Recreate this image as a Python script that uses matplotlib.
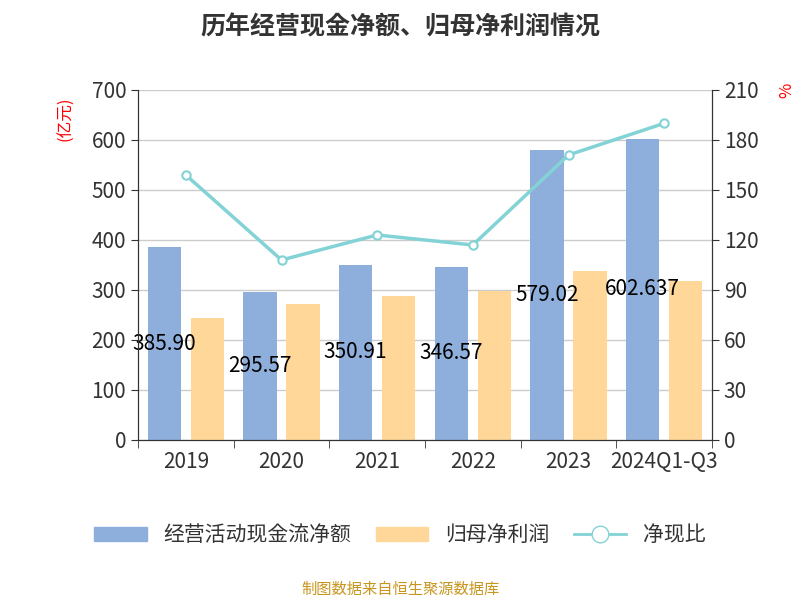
import matplotlib
matplotlib.use("Agg")
import matplotlib.pyplot as plt
import numpy as np
from matplotlib.lines import Line2D
from matplotlib.patches import Patch

plt.rcParams['font.family'] = 'sans-serif'
plt.rcParams['font.sans-serif'] = ['Noto Sans CJK SC', 'Noto Sans CJK JP', 'Noto Sans CJK TC', 'Noto Sans CJK KR', 'DejaVu Sans']

years = ["2019", "2020", "2021", "2022", "2023", "2024Q1-Q3"]
cash_flow = [385.90, 295.57, 350.91, 346.57, 579.02, 602.637]
cash_labels = ["385.90", "295.57", "350.91", "346.57", "579.02", "602.637"]
net_profit = [243, 272, 287, 298, 338, 318]
ratio = [159, 108, 123, 117, 171, 190]

fig = plt.figure(figsize=(8, 6), dpi=100)
ax = fig.add_axes([0.1725, 0.2667, 0.7175, 0.5833])
ax2 = ax.twinx()
x = np.arange(len(years))
w = 0.35
ax.bar(x - 0.225, cash_flow, w, color="#8eaedb", zorder=2)
ax.bar(x + 0.225, net_profit, w, color="#ffd899", zorder=2)
for xi, v, l in zip(x, cash_flow, cash_labels):
    ax.text(xi - 0.225, v / 2, l, ha="center", va="center", fontsize=15, color="black", zorder=5)
ax2.plot(x, ratio, color="#83d3d6", lw=2.5, marker="o", mfc="white", mec="#83d3d6", ms=6, mew=1.5, zorder=3)

ax.set_xlim(-0.5, 5.5)
ax.set_ylim(0, 700)
ax2.set_ylim(0, 210)
ax.set_yticks(range(0, 701, 100))
ax2.set_yticks(range(0, 211, 30))
ax.set_xticks(x)
ax.set_xticklabels(years)
ax.set_xticks(np.arange(-0.5, 6, 1), minor=True)
ax.tick_params(axis="x", which="major", length=0, labelsize=15, colors="#333333", pad=8)
ax.tick_params(axis="x", which="minor", length=6, color="#333333")
ax.tick_params(axis="y", labelsize=15, colors="#333333", length=5)
ax2.tick_params(axis="y", labelsize=15, colors="#333333", length=5)
ax.grid(axis="y", color="#cccccc", lw=1, zorder=0)
for a in (ax, ax2):
    a.spines["top"].set_visible(False)
    for s in ("left", "right", "bottom"):
        a.spines[s].set_color("#333333")
ax.text(-0.125, 0.98, "(亿元)", transform=ax.transAxes, rotation=90, color="red", fontsize=12, ha="center", va="top")
ax2.text(1.13, 1.0, "%", transform=ax2.transAxes, rotation=90, color="red", fontsize=12, ha="center", va="center")

fig.text(0.5, 0.955, "历年经营现金净额、归母净利润情况", ha="center", va="center", fontsize=18, fontweight="bold", color="#333333")
handles = [Patch(color="#8eaedb"), Patch(color="#ffd899"),
           Line2D([], [], color="#83d3d6", lw=2, marker="o", mfc="white", ms=12)]
fig.legend(handles, ["经营活动现金流净额", "归母净利润", "净现比"], loc="center", bbox_to_anchor=(0.5, 0.108),
           ncol=3, frameon=False, fontsize=15, handlelength=2.5, columnspacing=1.2, labelcolor="#333333")
fig.text(0.5, 0.018, "制图数据来自恒生聚源数据库", ha="center", va="center", fontsize=11, color="#c8961e")
fig.savefig("out.png")
